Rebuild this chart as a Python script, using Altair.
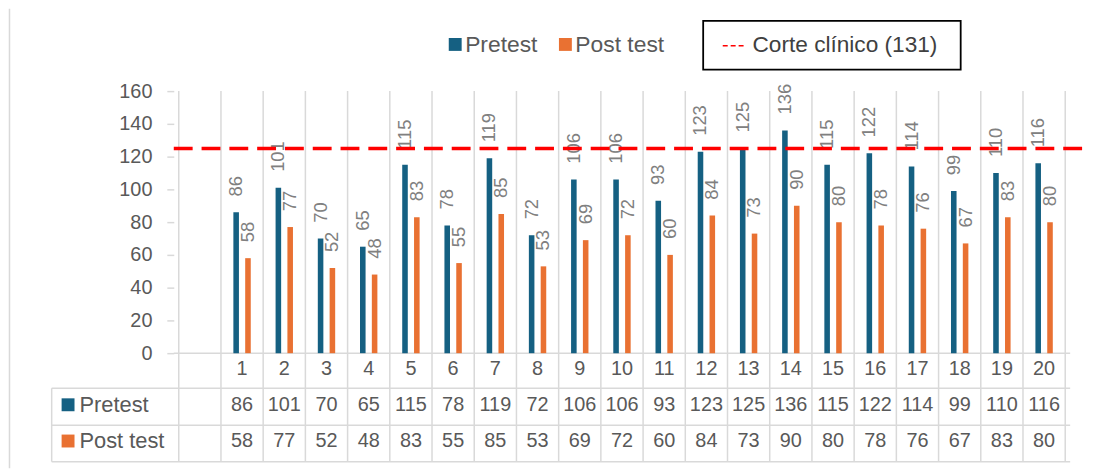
import altair as alt
import pandas as pd

# ---------------- data ----------------
categories = list(range(1, 21))
pretest = [86, 101, 70, 65, 115, 78, 119, 72, 106, 106, 93, 123, 125, 136, 115, 122, 114, 99, 110, 116]
posttest = [58, 77, 52, 48, 83, 55, 85, 53, 69, 72, 60, 84, 73, 90, 80, 78, 76, 67, 83, 80]
series_names = ["Pretest", "Post test"]
series_colors = ["#156082", "#E97132"]
cutoff_label = "Corte clínico (131)"
cutoff_drawn = [125]
y_ticks = [0, 20, 40, 60, 80, 100, 120, 140, 160]

FONT = "Liberation Sans, Arial, sans-serif"
GRID = "#d9d9d9"
TXT = "#595959"

W, H = 903, 264
n_slots = len(categories) + 1  # one empty slot before category 1
series_offsets = [0.36, 0.64]

rows = []
for c, a, b in zip(categories, pretest, posttest):
    for name, val, off in zip(series_names, [a, b], series_offsets):
        rows.append({"cat": c, "series": name, "value": val, "xc": c + off})
bars_df = pd.DataFrame(rows)

xscale = alt.Scale(domain=[0, n_slots], nice=False, zero=False)
yscale = alt.Scale(domain=[0, 160], nice=False)
yaxis = alt.Axis(
    values=y_ticks, title=None, grid=False, domain=False,
    tickColor=GRID, tickSize=7, tickWidth=1.5,
    labelFont=FONT, labelFontSize=20, labelColor=TXT, labelPadding=15,
)
color = alt.Color("series:N", scale=alt.Scale(domain=series_names, range=series_colors), legend=None)
one = pd.DataFrame({"k": [0]})


def prule(x, x2, y, y2=None, col=GRID, sw=1.5, dash=None):
    kw = dict(color=col, strokeWidth=sw)
    if dash:
        kw["strokeDash"] = dash
    enc = dict(x=alt.value(x), x2=alt.value(x2), y=alt.value(y))
    if y2 is not None:
        enc["y2"] = alt.value(y2)
    return alt.Chart(one).mark_rule(**kw).encode(**enc)


# vertical grid lines at slot boundaries (through the table)
vgrid_df = pd.DataFrame({"b": list(range(0, n_slots + 1))})
vgrid = alt.Chart(vgrid_df).mark_rule(color=GRID, strokeWidth=1.5).encode(
    x=alt.X("b:Q", scale=xscale, axis=None),
    y=alt.value(0),
    y2=alt.value(373.3),
)

# table horizontal lines and borders
table_lines = [
    prule(0, W, H),
    prule(-123, W, 299.3),
    prule(-123, W, 336.7),
    prule(-123, W, 373.3),
    prule(-123, -123, 299.3, 373.3),
    prule(-165.5, -165.5, -83, 380),
]

bars = alt.Chart(bars_df).mark_bar(width=5.6).encode(
    x=alt.X("xc:Q", scale=xscale, axis=None),
    y=alt.Y("value:Q", scale=yscale, axis=yaxis),
    color=color,
)

labels = alt.Chart(bars_df).mark_text(
    angle=270, align="left", baseline="middle", dx=16, fontSize=18.5, font=FONT, color="#808080"
).encode(
    x=alt.X("xc:Q", scale=xscale, axis=None),
    y=alt.Y("value:Q", scale=yscale, axis=yaxis),
    text="value:Q",
)

cut_df = pd.DataFrame({"v": cutoff_drawn})
cutline = alt.Chart(cut_df).mark_rule(color="#FF0000", strokeWidth=3.5, strokeDash=[19, 9]).encode(
    x=alt.value(0), x2=alt.value(916),
    y=alt.Y("v:Q", scale=yscale, axis=yaxis),
)

# data table text
cat_df = pd.DataFrame({"cat": categories, "xm": [c + 0.5 for c in categories],
                       "pre": pretest, "post": posttest})
table_text = []
for field, ypix in [("cat", 280), ("pre", 316), ("post", 352.5)]:
    table_text.append(
        alt.Chart(cat_df).mark_text(fontSize=20, font=FONT, color=TXT, baseline="middle").encode(
            x=alt.X("xm:Q", scale=xscale, axis=None),
            y=alt.value(ypix),
            text=f"{field}:Q",
        )
    )

# row labels of the table
row_items = []
for name, col, ypix in zip(series_names, series_colors, [316, 352.5]):
    row_items.append(alt.Chart(one).mark_rect(color=col).encode(
        x=alt.value(-113), x2=alt.value(-100), y=alt.value(ypix - 6.5), y2=alt.value(ypix + 6.5)))
    row_items.append(alt.Chart(one).mark_text(
        align="left", baseline="middle", fontSize=22, font=FONT, color=TXT).encode(
        x=alt.value(-95), y=alt.value(ypix), text=alt.value(name)))

# top legend for the series
legend_items = []
for name, col, xs in zip(series_names, series_colors, [277, 388]):
    legend_items.append(alt.Chart(one).mark_rect(color=col).encode(
        x=alt.value(xs), x2=alt.value(xs + 13), y=alt.value(-53.5), y2=alt.value(-40.5)))
    legend_items.append(alt.Chart(one).mark_text(
        align="left", baseline="middle", fontSize=23, font=FONT, color=TXT).encode(
        x=alt.value(xs + 16.5), y=alt.value(-46.5), text=alt.value(name)))

# boxed legend for the clinical cut-off
box = alt.Chart(one).mark_rect(fill="white", stroke="black", strokeWidth=1.8).encode(
    x=alt.value(533.3), x2=alt.value(792.7), y=alt.value(-70.7), y2=alt.value(-21.7))
box_line = prule(553, 577, -45.7, col="#FF0000", sw=1.5, dash=[5, 3])
box_text = alt.Chart(one).mark_text(
    align="left", baseline="middle", fontSize=22.8, font=FONT, color="#404040").encode(
    x=alt.value(583), y=alt.value(-46), text=alt.value(cutoff_label))

chart = alt.layer(
    vgrid, *table_lines, bars, labels, cutline, *table_text, *row_items,
    *legend_items, box, box_line, box_text,
).properties(
    width=W, height=H,
    autosize=alt.AutoSizeParams(type="none"),
    padding={"left": 167, "top": 82, "right": 24, "bottom": 118},
).configure_view(stroke=None)

chart.save("out.html", embed_options={"renderer": "svg", "actions": False})
